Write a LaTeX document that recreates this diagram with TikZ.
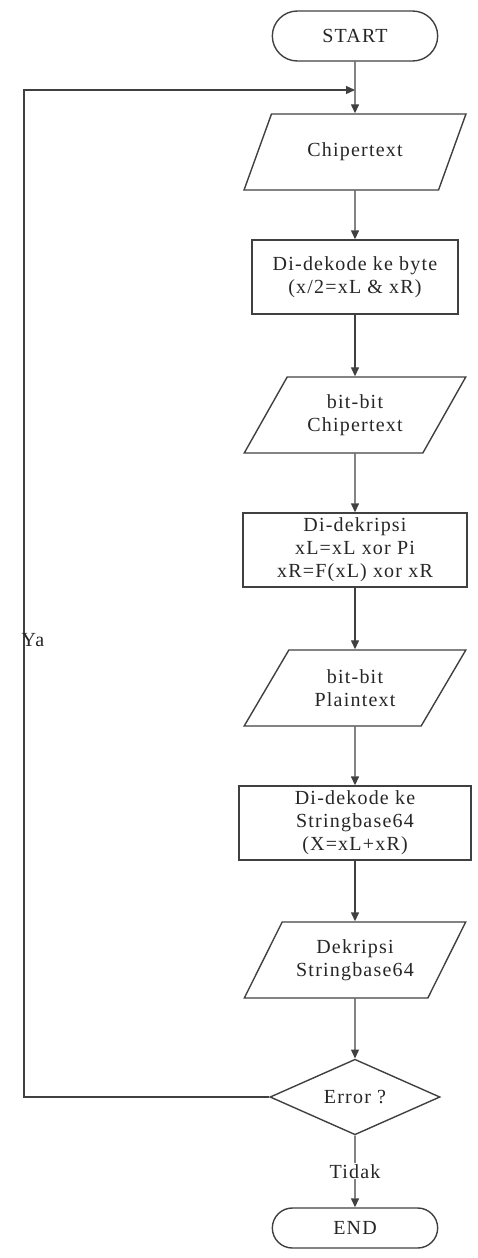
\documentclass[tikz,border=0pt]{standalone}
\usepackage{fontspec}
\setmainfont{Liberation Serif}[LetterSpace=6]
\usetikzlibrary{shapes.geometric,shapes.misc,arrows.meta}
\begin{document}
\begin{tikzpicture}[x=1pt,y=-1pt,
  every node/.style={font=\fontsize{20}{23}\selectfont, text=black!85, align=center},
  ln/.style={draw=black!75, line width=1.4pt},
  flow/.style={ln, -{Triangle[length=9pt,width=8pt]}},
  term/.style={ln, rounded rectangle, minimum width=172pt, minimum height=50pt},
  io/.style={ln, trapezium, trapezium left angle=56, trapezium right angle=124,
    trapezium stretches=true, minimum width=222pt, minimum height=76pt},
  proc/.style={ln, rectangle, minimum height=74pt},
  decide/.style={ln, diamond, minimum width=170pt, minimum height=71pt, inner sep=0pt},
]
\useasboundingbox (0,0) rectangle (477,1258);

% main column
\node[term] (start) at (355,36) {START};
\node[io] (ct) at (355,152) {Chipertext};
\node[proc, minimum width=206pt] (byte) at (355,277) {Di-dekode ke byte\\(x/2=xL \& xR)};
\node[io] (bct) at (355,415) {bit-bit\\Chipertext};
\node[proc, minimum width=224pt] (dek) at (355,550) {Di-dekripsi\\xL=xL xor Pi\\xR=F(xL) xor xR};
\node[io] (bpt) at (355,688) {bit-bit\\Plaintext};
\node[proc, minimum width=232pt] (s64) at (355,823) {Di-dekode ke\\Stringbase64\\(X=xL+xR)};
\node[io] (ds) at (355,960) {Dekripsi\\Stringbase64};
\node[decide] (err) at (355,1097) {Error ?};
\node[term, minimum height=40pt] (end) at (355,1228) {END};

% connectors
\draw[flow] (start) -- (ct);
\draw[flow] (ct) -- (byte);
\draw[flow] (byte) -- (bct);
\draw[flow] (bct) -- (dek);
\draw[flow] (dek) -- (bpt);
\draw[flow] (bpt) -- (s64);
\draw[flow] (s64) -- (ds);
\draw[flow] (ds) -- (err);
\draw[flow] (err) -- node[fill=white, inner sep=1pt] {Tidak} (end);

% loop back when an error occurs
\coordinate (loop) at (24,90);
\coordinate (join) at (355,90);
\draw[flow] (err.west) -| (loop) -- (join);
\node (ya) at (33,640) {Ya};
\end{tikzpicture}
\end{document}
